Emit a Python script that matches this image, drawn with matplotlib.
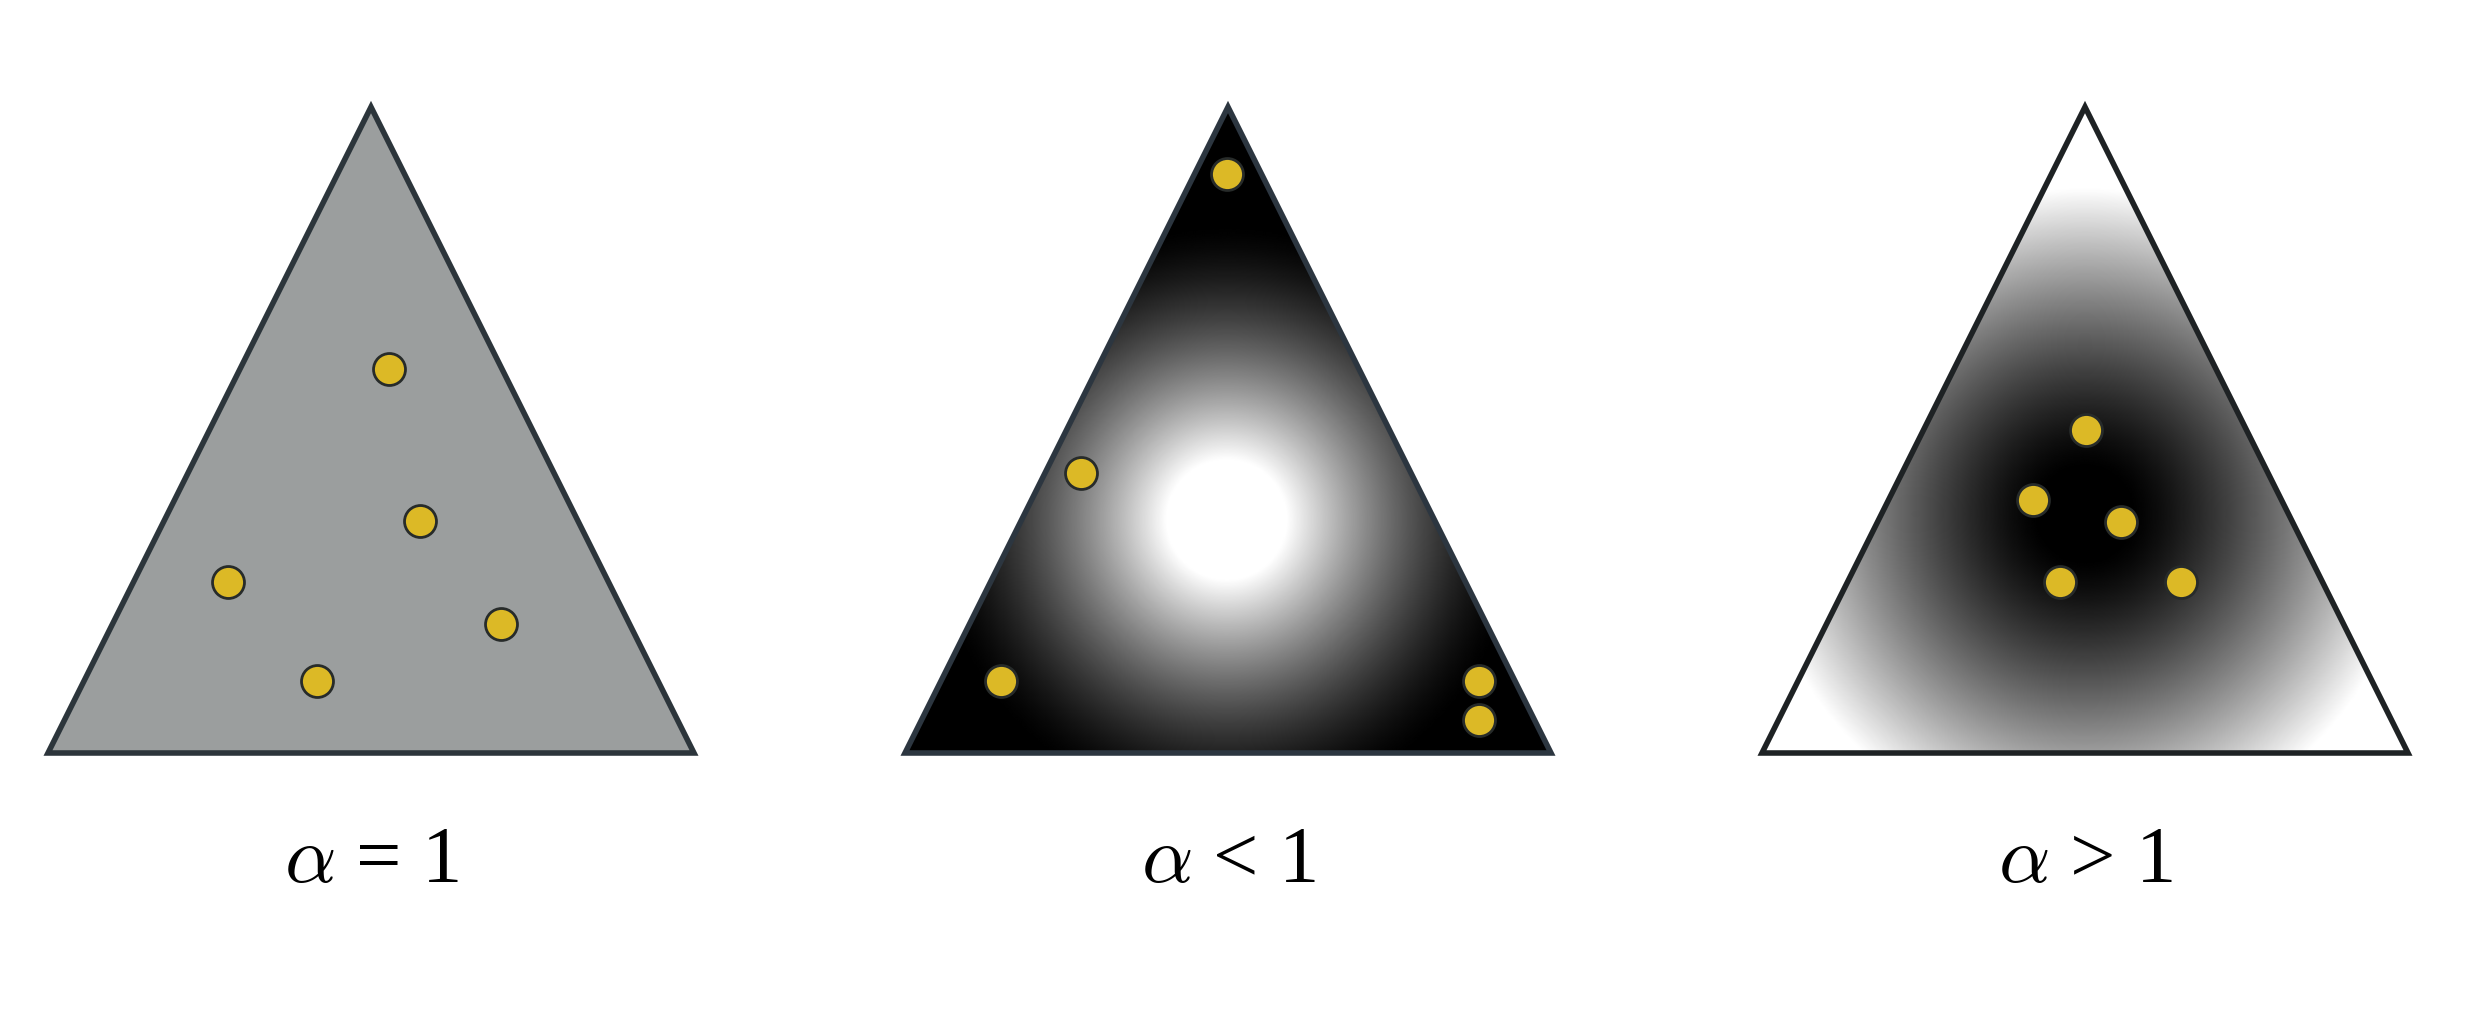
import numpy as np
import matplotlib
matplotlib.use("Agg")
import matplotlib.pyplot as plt
from matplotlib.patches import Polygon

plt.rcParams['mathtext.fontset'] = 'cm'
plt.rcParams['font.family'] = ['Liberation Serif', 'DejaVu Serif']

# ---- data (normalised triangle coordinates: base 0..1 at y=0, apex at (0.5, 1)) ----
labels = [r'$\alpha$ = 1', r'$\alpha$ < 1', r'$\alpha$ > 1']

pts1_x = [0.528, 0.576, 0.278, 0.701, 0.416]
pts1_y = [0.595, 0.359, 0.264, 0.200, 0.111]

pts2_x = [0.498, 0.272, 0.149, 0.889, 0.889]
pts2_y = [0.896, 0.434, 0.111, 0.111, 0.051]

pts3_x = [0.501, 0.419, 0.555, 0.462, 0.648]
pts3_y = [0.500, 0.392, 0.358, 0.264, 0.264]

# density shading parameters (centre, inner radius, outer radius, curve exponent)
shade2 = dict(cx=0.498, cy=0.361, r0=0.093, r1=0.46, gamma=1.5, invert=False)
shade3 = dict(cx=0.500, cy=0.370, r0=0.070, r1=0.505, gamma=1.3, invert=True)

W, H, DPI = 2475, 1010, 100
fig = plt.figure(figsize=(W / DPI, H / DPI), dpi=DPI)
fig.patch.set_facecolor('white')

tri_left_px = [48, 905, 1762]
tri_w_px = 646
tri_h_px = 646
base_px = 753
pad = 0.05

tri_verts = np.array([[0, 0], [1, 0], [0.5, 1]])

def make_ax(left_px):
    l = (left_px - pad * tri_w_px) / W
    b = ((H - base_px) - pad * tri_h_px) / H
    w = (1 + 2 * pad) * tri_w_px / W
    h = (1 + 2 * pad) * tri_h_px / H
    ax = fig.add_axes([l, b, w, h])
    ax.set_xlim(-pad, 1 + pad)
    ax.set_ylim(-pad, 1 + pad)
    ax.axis('off')
    return ax

def shading(ax, cx, cy, r0, r1, gamma, invert):
    n = 600
    xs = np.linspace(0, 1, n)
    ys = np.linspace(0, 1, n)
    X, Y = np.meshgrid(xs, ys)
    d = np.sqrt((X - cx) ** 2 + (Y - cy) ** 2)
    t = np.clip((d - r0) / (r1 - r0), 0, 1)
    if invert:
        val = t ** gamma
    else:
        val = (1 - t) ** gamma
    im = ax.imshow(val, extent=[0, 1, 0, 1], origin='lower', cmap='gray',
                   vmin=0, vmax=1, interpolation='bilinear', zorder=1)
    clip = Polygon(tri_verts, closed=True, transform=ax.transData)
    im.set_clip_path(clip)

dot_face = '#dcb926'
dot_edge = '#272b2a'

panels = [
    (pts1_x, pts1_y, None, '#9b9e9e', '#2c353b'),
    (pts2_x, pts2_y, shade2, 'none', '#2c3640'),
    (pts3_x, pts3_y, shade3, 'none', '#1e2224'),
]

for i, (px, py, sh, face, edge) in enumerate(panels):
    ax = make_ax(tri_left_px[i])
    if sh is None:
        ax.add_patch(Polygon(tri_verts, closed=True, facecolor=face,
                             edgecolor='none', zorder=1))
    else:
        shading(ax, **sh)
    ax.add_patch(Polygon(tri_verts, closed=True, facecolor='none',
                         edgecolor=edge, linewidth=4.0, joinstyle='miter', zorder=3))
    ax.plot(px, py, 'o', ms=23, mfc=dot_face, mec=dot_edge, mew=2.0,
            linestyle='none', zorder=4)
    cx_px = tri_left_px[i] + tri_w_px / 2
    fig.text(cx_px / W, (H - 882) / H, labels[i], ha='center', va='baseline',
             fontsize=58, color='black')

fig.savefig('out.png', dpi=DPI, facecolor='white')
